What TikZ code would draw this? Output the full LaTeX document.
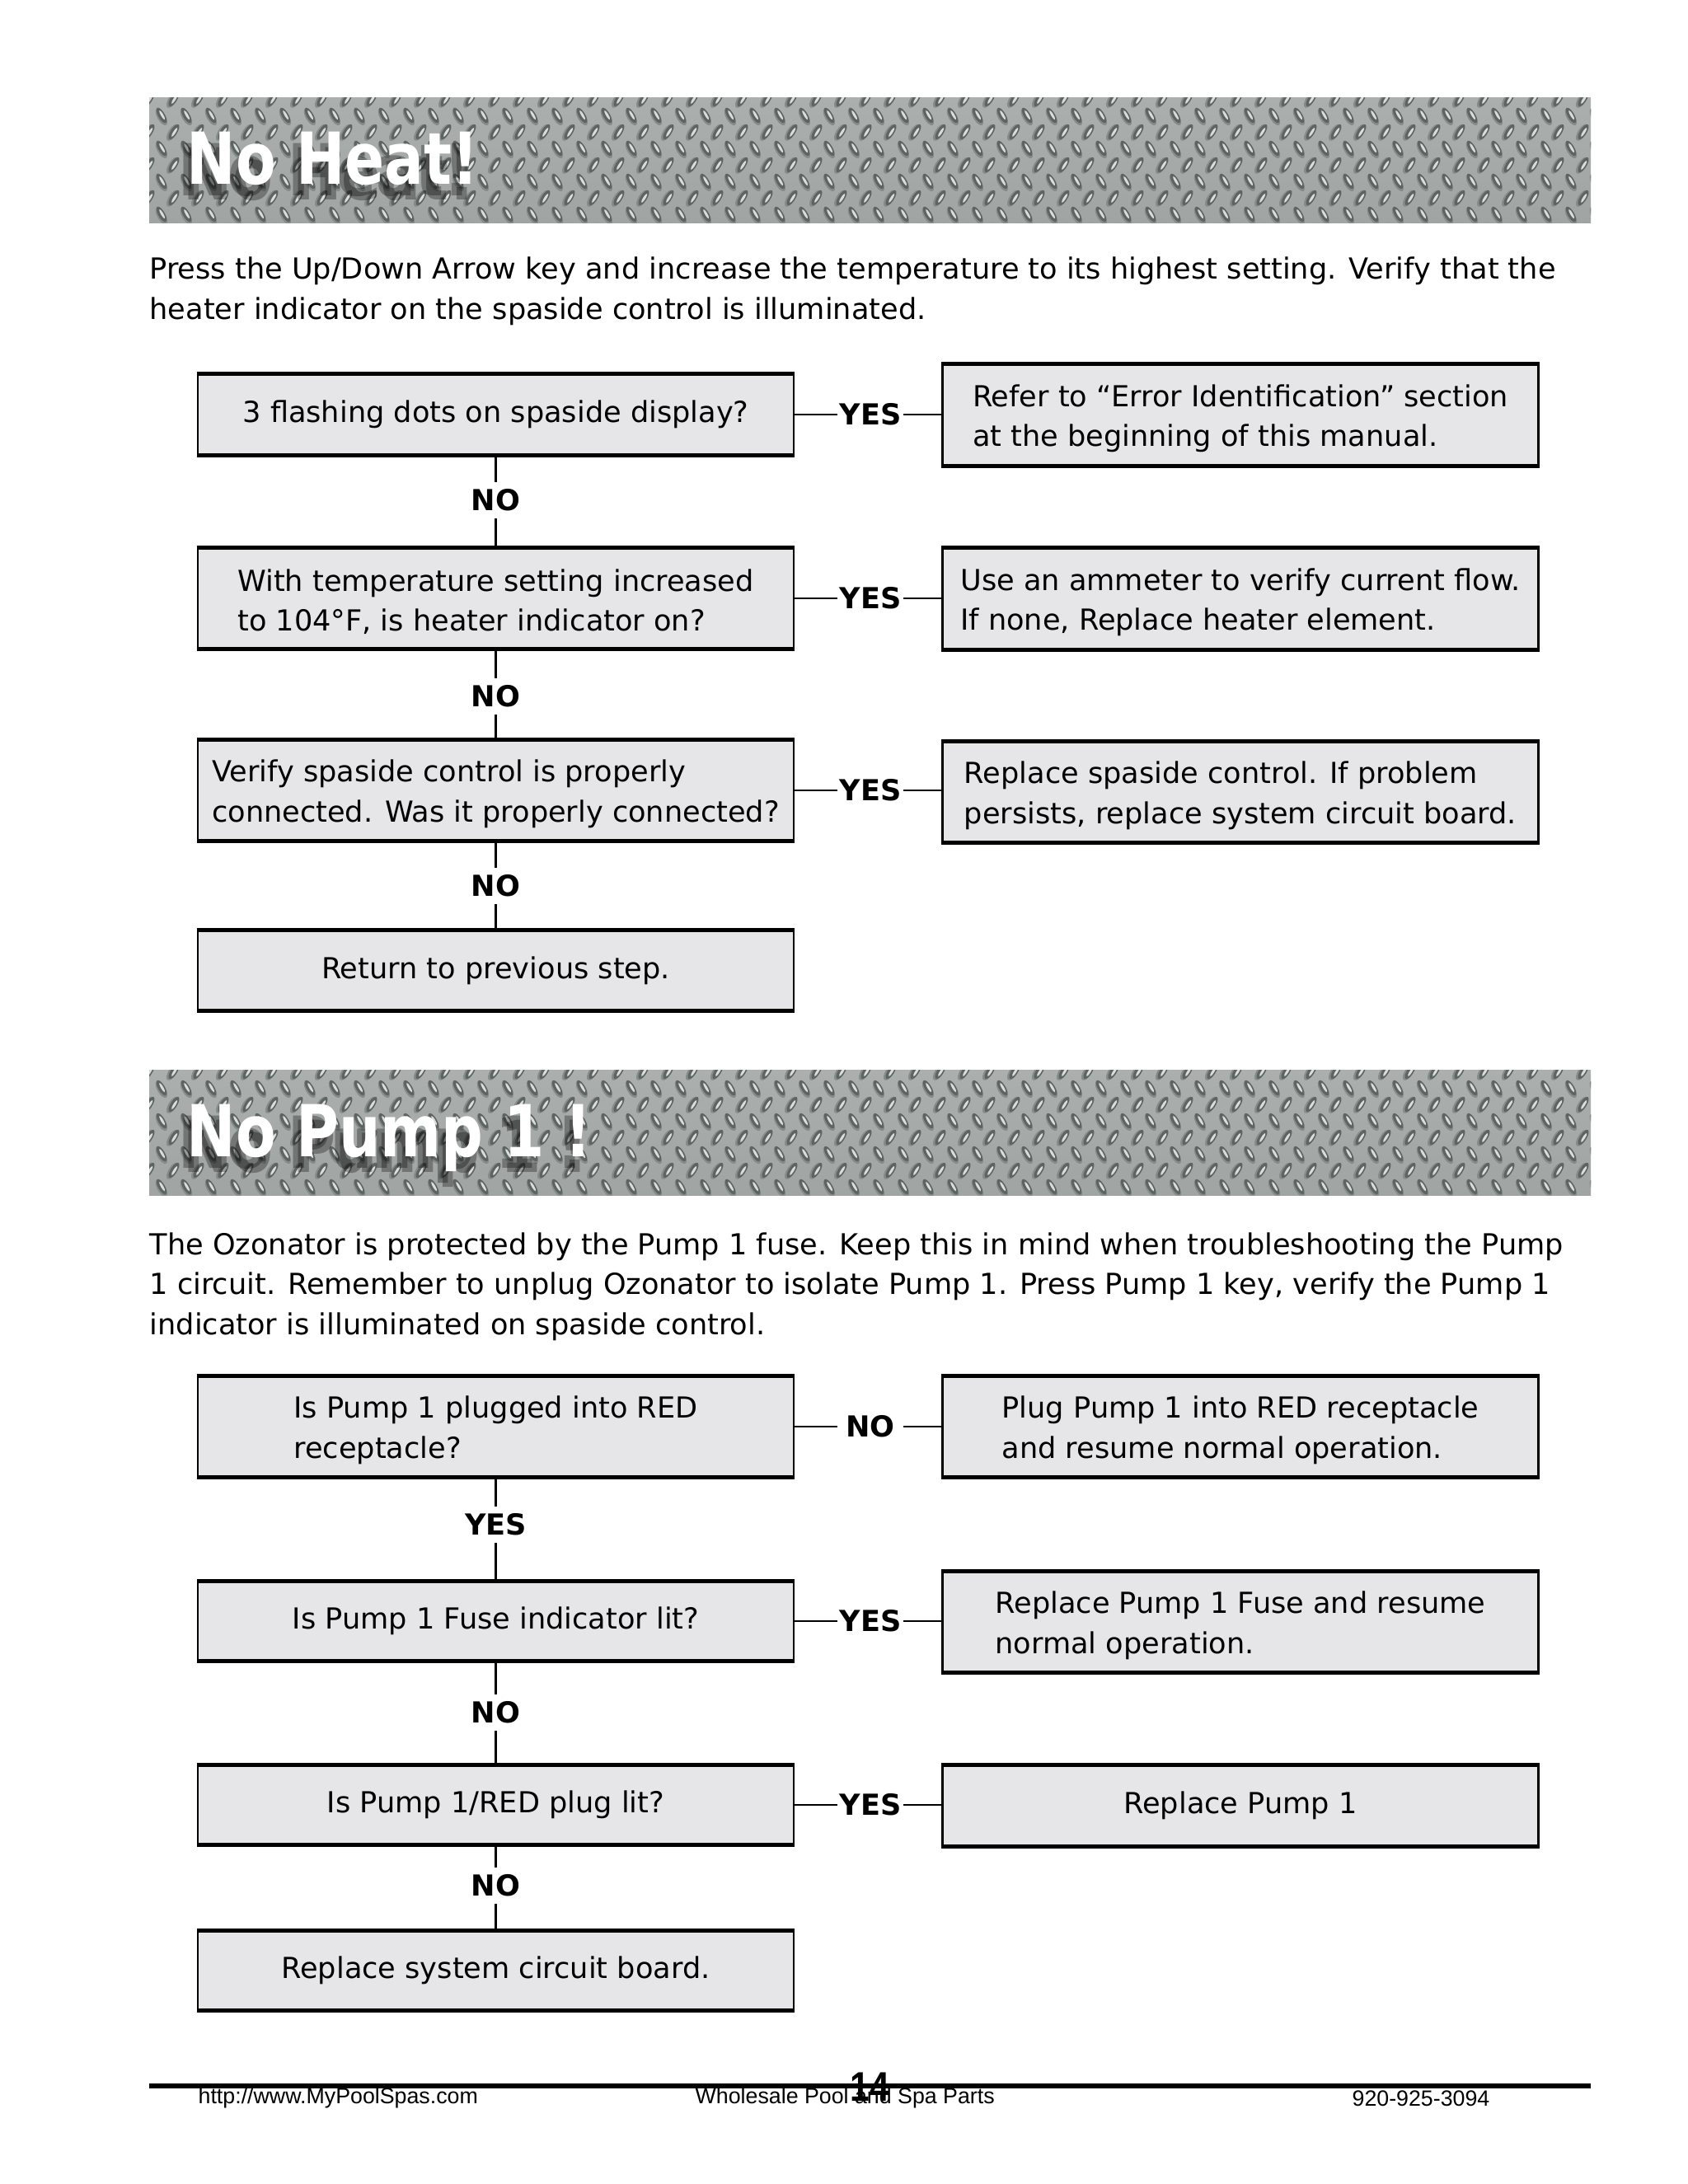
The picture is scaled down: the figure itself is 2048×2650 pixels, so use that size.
\documentclass[tikz,border=0pt]{standalone}
\usepackage{fontspec}
\setmainfont{DejaVu Sans}
\newfontfamily\footfont{Liberation Sans}
\usetikzlibrary{calc}
\definecolor{boxfill}{HTML}{E6E6E8}
\definecolor{platebg}{HTML}{ABB0AE}
\definecolor{platebgb}{HTML}{A0A5A3}
\definecolor{platedk}{HTML}{5E6462}
\definecolor{platemd}{HTML}{868C8A}
\definecolor{platelt}{HTML}{D9DDDB}
\def\pxu{0.29883pt}
\newcommand\tup{\rule{0pt}{10.5pt}}
\newcommand\myplate[1]{%
  \begin{scope}
    \clip (181,#1) rectangle (1930,#1+152);
    \shade[top color=platebg, bottom color=platebgb] (181,#1) rectangle (1930,#1+152);
    \foreach \j in {0,...,8}{
      \foreach \i in {0,...,59}{
        \pgfmathsetmacro\xx{181+\i*30+mod(\j,2)*15}
        \pgfmathsetmacro\yy{#1+2+\j*20}
        \pgfmathsetmacro\rot{mod(\j,2)==0 ? -32 : 30}
        \fill[platemd, rotate around={\rot:(\xx,\yy)}] (\xx-1,\yy+1.5) ellipse [x radius=5, y radius=11.5];
        \fill[platedk, rotate around={\rot:(\xx,\yy)}] (\xx,\yy) ellipse [x radius=4, y radius=10.5];
        \fill[platelt, rotate around={\rot:(\xx,\yy)}] (\xx+0.8,\yy) ellipse [x radius=1.5, y radius=6.5];
      }
    }
  \end{scope}}
\begin{document}
\begin{tikzpicture}[x=0.29883pt, y=-0.29883pt,
  box/.style={draw=black, line width=0.7pt, fill=boxfill, minimum width=723*\pxu,
    inner sep=0pt, align=left, font=\fontsize{10.5}{14.5}\selectfont,
    append after command={(\tikzlastnode.north west) edge[line width=1.5pt] (\tikzlastnode.north east)
      (\tikzlastnode.south west) edge[line width=1.5pt] (\tikzlastnode.south east)}},
  lab/.style={font=\bfseries\fontsize{10.5}{12}\selectfont, inner xsep=0.6pt, inner ysep=2.5pt},
  labw/.style={lab, inner xsep=3pt},
  conn/.style={draw=black, line width=0.8pt},
  para/.style={anchor=base west, align=left, inner sep=0pt, font=\fontsize{10.5}{14.4}\selectfont},
  ttl/.style={anchor=base west, inner sep=0pt, font=\bfseries\fontsize{26}{30}\selectfont},
  shd/.style={ttl, text=black, opacity=0.3},
  foot/.style={inner sep=0pt, font=\footfont\fontsize{8}{9}\selectfont}]
\useasboundingbox (0,0) rectangle (2048,2650);
\fill[white] (0,0) rectangle (2048,2650);

% ---------- No Heat ----------
\myplate{118}
\node[shd] (s1a) at (216,237) {\scalebox{0.815}[1]{No Heat!}};
\node[shd] (s1b) at (222,242) {\scalebox{0.815}[1]{No Heat!}};
\node[ttl, text=white] (t1) at (226,223) {\scalebox{0.815}[1]{No Heat!}};

\node[para] (p1) at (181,387) {Press the Up/Down Arrow key and increase the temperature to its highest setting. Verify that the\\heater indicator on the spaside control is illuminated.};

\node[box, minimum height=96*\pxu] (a1) at (601.5,503) {3 flashing dots on spaside display?};
\node[box, minimum height=121*\pxu] (a1r) at (1505,503.5) {\tup Refer to “Error Identification” section\\at the beginning of this manual.};
\node[lab] (ya1) at (1056,503) {YES};
\draw[conn] (a1.east) -- (ya1.west);
\draw[conn] (ya1.east) -- (ya1.east -| a1r.west);
\node[lab] (na1) at (601.5,607) {NO};
\draw[conn] (a1.south) -- (na1.north);

\node[box, minimum height=120*\pxu] (a2) at (601.5,726) {\tup With temperature setting increased\\to 104°F, is heater indicator on?};
\node[box, minimum height=121*\pxu] (a2r) at (1505,726.5) {\tup Use an ammeter to verify current flow.\\If none, Replace heater element.};
\draw[conn] (na1.south) -- (a2.north);
\node[lab] (ya2) at (1056,726) {YES};
\draw[conn] (a2.east) -- (ya2.west);
\draw[conn] (ya2.east) -- (ya2.east -| a2r.west);
\node[lab] (na2) at (601.5,845) {NO};
\draw[conn] (a2.south) -- (na2.north);

\node[box, minimum height=120*\pxu] (a3) at (601.5,959) {\tup Verify spaside control is properly\\connected. Was it properly connected?};
\node[box, minimum height=120*\pxu] (a3r) at (1505,961) {\tup Replace spaside control. If problem\\persists, replace system circuit board.};
\draw[conn] (na2.south) -- (a3.north);
\node[lab] (ya3) at (1056,959) {YES};
\draw[conn] (a3.east) -- (ya3.west);
\draw[conn] (ya3.east) -- (ya3.east -| a3r.west);
\node[lab] (na3) at (601.5,1075) {NO};
\draw[conn] (a3.south) -- (na3.north);

\node[box, minimum height=95*\pxu] (a4) at (601.5,1177.5) {Return to previous step.};
\draw[conn] (na3.south) -- (a4.north);

% ---------- No Pump 1 ----------
\myplate{1298}
\node[shd] (s2a) at (216,1417) {\scalebox{0.815}[1]{No Pump 1 !}};
\node[shd] (s2b) at (222,1422) {\scalebox{0.815}[1]{No Pump 1 !}};
\node[ttl, text=white] (t2) at (226,1403) {\scalebox{0.815}[1]{No Pump 1 !}};

\node[para] (p2) at (181,1619) {The Ozonator is protected by the Pump 1 fuse. Keep this in mind when troubleshooting the Pump\\1 circuit. Remember to unplug Ozonator to isolate Pump 1. Press Pump 1 key, verify the Pump 1\\indicator is illuminated on spaside control.};

\node[box, minimum height=120*\pxu] (b1) at (601.5,1731) {\tup Is Pump 1 plugged into RED\\receptacle?};
\node[box, minimum height=120*\pxu] (b1r) at (1505,1731) {\tup Plug Pump 1 into RED receptacle\\and resume normal operation.};
\node[labw] (nb1) at (1056,1731) {NO};
\draw[conn] (b1.east) -- (nb1.west);
\draw[conn] (nb1.east) -- (b1r.west);
\node[lab] (yb1) at (601.5,1850) {YES};
\draw[conn] (b1.south) -- (yb1.north);

\node[box, minimum height=94*\pxu] (b2) at (601.5,1967) {Is Pump 1 Fuse indicator lit?};
\node[box, minimum height=120*\pxu] (b2r) at (1505,1968) {\tup Replace Pump 1 Fuse and resume\\normal operation.};
\draw[conn] (yb1.south) -- (b2.north);
\node[lab] (yb2) at (1056,1967) {YES};
\draw[conn] (b2.east) -- (yb2.west);
\draw[conn] (yb2.east) -- (yb2.east -| b2r.west);
\node[lab] (nb2) at (601.5,2078) {NO};
\draw[conn] (b2.south) -- (nb2.north);

\node[box, minimum height=94*\pxu] (b3) at (601.5,2190) {Is Pump 1/RED plug lit?};
\node[box, minimum height=96*\pxu] (b3r) at (1505,2191) {Replace Pump 1};
\draw[conn] (nb2.south) -- (b3.north);
\node[lab] (yb3) at (1056,2190) {YES};
\draw[conn] (b3.east) -- (yb3.west);
\draw[conn] (yb3.east) -- (yb3.east -| b3r.west);
\node[lab] (nb3) at (601.5,2288) {NO};
\draw[conn] (b3.south) -- (nb3.north);

\node[box, minimum height=94*\pxu] (b4) at (601.5,2391) {Replace system circuit board.};
\draw[conn] (nb3.south) -- (b4.north);

% ---------- footer ----------
\coordinate (fl) at (181,2531);
\coordinate (fr) at (1930,2531);
\draw[line width=2pt] (fl) -- (fr);
\node[foot, anchor=west] (f1) at (240,2546) {http://www.MyPoolSpas.com};
\node[foot, anchor=west] (f2) at (843,2546) {Wholesale Pool and Spa Parts};
\node[foot, anchor=east] (f3) at (1808,2546) {920-925-3094};
\node[inner sep=0pt, font=\footfont\bfseries\fontsize{15}{16}\selectfont] (pg) at (1055,2532) {\scalebox{0.85}[1]{14}};
\end{tikzpicture}
\end{document}
